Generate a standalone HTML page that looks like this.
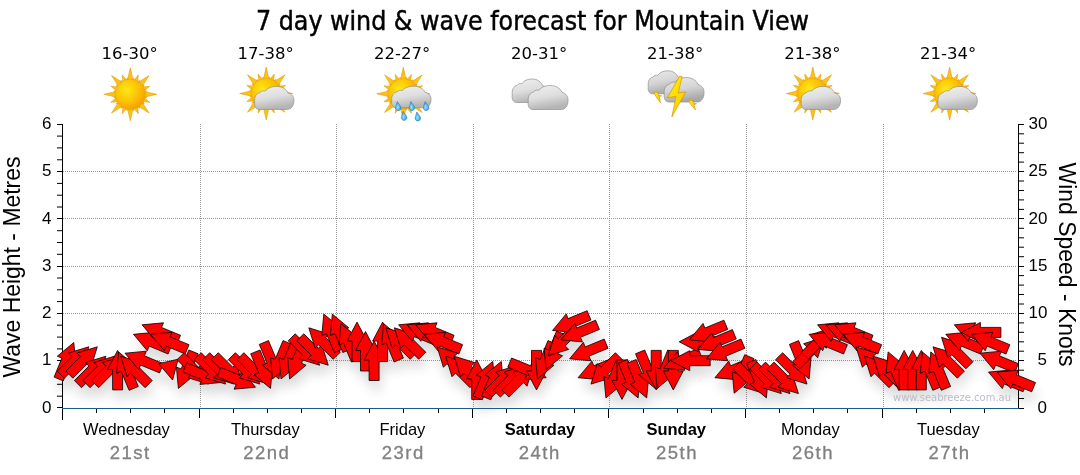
<!DOCTYPE html>
<html><head><meta charset="utf-8">
<style>
html,body{margin:0;padding:0;background:#fff;}
body{width:1080px;height:475px;overflow:hidden;position:relative;}
svg{position:absolute;left:0;top:0;}
.t{font-family:"DejaVu Sans",sans-serif;}
</style></head><body>
<svg width="1080" height="475" viewBox="0 0 1080 475">
<defs>
 <radialGradient id="sunG" cx="0.35" cy="0.35" r="0.75">
  <stop offset="0" stop-color="#ffe100"/><stop offset="0.6" stop-color="#fbb900"/><stop offset="1" stop-color="#f29400"/>
 </radialGradient>
 <linearGradient id="rayG" x1="0" y1="0" x2="0" y2="1">
  <stop offset="0" stop-color="#ffd51e"/><stop offset="1" stop-color="#f6a300"/>
 </linearGradient>
 <linearGradient id="cloudG" x1="0" y1="0" x2="0" y2="1">
  <stop offset="0" stop-color="#f4f4f4"/><stop offset="1" stop-color="#b9b9b9"/>
 </linearGradient>
 
 <radialGradient id="discG" cx="0.38" cy="0.36" r="0.7">
  <stop offset="0" stop-color="#ffe81a"/><stop offset="0.55" stop-color="#fcc200"/><stop offset="1" stop-color="#f49c00"/>
 </radialGradient>
 <linearGradient id="cloudG2" x1="0" y1="0" x2="0.3" y2="1">
  <stop offset="0" stop-color="#f0f0f0"/><stop offset="0.55" stop-color="#dedede"/><stop offset="1" stop-color="#b5b5b5"/>
 </linearGradient>
 <linearGradient id="cloudG3" x1="0" y1="0" x2="0.3" y2="1">
  <stop offset="0" stop-color="#ebebeb"/><stop offset="0.55" stop-color="#d4d4d4"/><stop offset="1" stop-color="#a9a9a9"/>
 </linearGradient>
 <linearGradient id="boltG" x1="0" y1="0" x2="1" y2="1">
  <stop offset="0" stop-color="#fff200"/><stop offset="1" stop-color="#f7c600"/>
 </linearGradient>
 <radialGradient id="dropG" cx="0.4" cy="0.6" r="0.6">
  <stop offset="0" stop-color="#9fe0ff"/><stop offset="1" stop-color="#2a9ad8"/>
 </radialGradient>
 <filter id="soft" x="-10%" y="-10%" width="120%" height="120%"><feGaussianBlur stdDeviation="0.35"/></filter>
 <filter id="blur8" x="-20%" y="-50%" width="140%" height="200%"><feGaussianBlur stdDeviation="6"/></filter>
</defs>

<!-- title -->
<text x="256" y="30" font-family="DejaVu Sans" font-stretch="condensed" font-size="26.8" fill="#000" stroke="#000" stroke-width="0.45" textLength="553" lengthAdjust="spacingAndGlyphs">7 day wind &amp; wave forecast for Mountain View</text>

<!-- temps -->
<g font-family="DejaVu Sans" font-size="16.5" fill="#000" text-anchor="middle">
<text x="129.6" y="59">16-30°</text>
<text x="265.6" y="59">17-38°</text>
<text x="402.1" y="59">22-27°</text>
<text x="539.2" y="59">20-31°</text>
<text x="675.1" y="59">21-38°</text>
<text x="812.4" y="59">21-38°</text>
<text x="948.2" y="59">21-34°</text>
</g>

<!-- icons -->
<g filter="url(#soft)"><path d="M130.30 67.80L133.70 82.80L126.90 82.80ZM138.34 74.90L137.29 84.75L132.11 82.60ZM149.04 75.56L140.84 88.57L136.03 83.76ZM149.70 86.26L142.00 92.49L139.85 87.31ZM156.80 94.30L141.80 97.70L141.80 90.90ZM149.70 102.34L139.85 101.29L142.00 96.11ZM149.04 113.04L136.03 104.84L140.84 100.03ZM138.34 113.70L132.11 106.00L137.29 103.85ZM130.30 120.80L126.90 105.80L133.70 105.80ZM122.26 113.70L123.31 103.85L128.49 106.00ZM111.56 113.04L119.76 100.03L124.57 104.84ZM110.90 102.34L118.60 96.11L120.75 101.29ZM103.80 94.30L118.80 90.90L118.80 97.70ZM110.90 86.26L120.75 87.31L118.60 92.49ZM111.56 75.56L124.57 83.76L119.76 88.57ZM122.26 74.90L128.49 82.60L123.31 84.75ZM133.58 77.82L134.60 82.92L130.68 82.14ZM139.63 80.33L138.63 85.43L135.30 83.21ZM144.27 84.97L141.39 89.30L139.17 85.97ZM146.78 91.02L142.46 93.92L141.68 90.00ZM146.78 97.58L141.68 98.60L142.46 94.68ZM144.27 103.63L139.17 102.63L141.39 99.30ZM139.63 108.27L135.30 105.39L138.63 103.17ZM133.58 110.78L130.68 106.46L134.60 105.68ZM127.02 110.78L126.00 105.68L129.92 106.46ZM120.97 108.27L121.97 103.17L125.30 105.39ZM116.33 103.63L119.21 99.30L121.43 102.63ZM113.82 97.58L118.14 94.68L118.92 98.60ZM113.82 91.02L118.92 90.00L118.14 93.92ZM116.33 84.97L121.43 85.97L119.21 89.30ZM120.97 80.33L125.30 83.21L121.97 85.43ZM127.02 77.82L129.92 82.14L126.00 82.92Z" fill="#fcc410" stroke="#e39a16" stroke-width="0.6" stroke-linejoin="round"/><circle cx="130.30" cy="94.30" r="15.20" fill="url(#discG)" stroke="#efa21a" stroke-width="0.6"/></g>
<g filter="url(#soft)"><path d="M266.20 67.00L269.60 82.00L262.80 82.00ZM274.24 74.10L273.19 83.95L268.01 81.80ZM284.94 74.76L276.74 87.77L271.93 82.96ZM285.60 85.46L277.90 91.69L275.75 86.51ZM292.70 93.50L277.70 96.90L277.70 90.10ZM285.60 101.54L275.75 100.49L277.90 95.31ZM284.94 112.24L271.93 104.04L276.74 99.23ZM274.24 112.90L268.01 105.20L273.19 103.05ZM266.20 120.00L262.80 105.00L269.60 105.00ZM258.16 112.90L259.21 103.05L264.39 105.20ZM247.46 112.24L255.66 99.23L260.47 104.04ZM246.80 101.54L254.50 95.31L256.65 100.49ZM239.70 93.50L254.70 90.10L254.70 96.90ZM246.80 85.46L256.65 86.51L254.50 91.69ZM247.46 74.76L260.47 82.96L255.66 87.77ZM258.16 74.10L264.39 81.80L259.21 83.95ZM269.48 77.02L270.50 82.12L266.58 81.34ZM275.53 79.53L274.53 84.63L271.20 82.41ZM280.17 84.17L277.29 88.50L275.07 85.17ZM282.68 90.22L278.36 93.12L277.58 89.20ZM282.68 96.78L277.58 97.80L278.36 93.88ZM280.17 102.83L275.07 101.83L277.29 98.50ZM275.53 107.47L271.20 104.59L274.53 102.37ZM269.48 109.98L266.58 105.66L270.50 104.88ZM262.92 109.98L261.90 104.88L265.82 105.66ZM256.87 107.47L257.87 102.37L261.20 104.59ZM252.23 102.83L255.11 98.50L257.33 101.83ZM249.72 96.78L254.04 93.88L254.82 97.80ZM249.72 90.22L254.82 89.20L254.04 93.12ZM252.23 84.17L257.33 85.17L255.11 88.50ZM256.87 79.53L261.20 82.41L257.87 84.63ZM262.92 77.02L265.82 81.34L261.90 82.12Z" fill="#fcc410" stroke="#e39a16" stroke-width="0.6" stroke-linejoin="round"/><circle cx="266.20" cy="93.50" r="15.20" fill="url(#discG)" stroke="#efa21a" stroke-width="0.6"/></g><path d="M259.34 109.40 C255.88 109.40 253.91 106.33 254.70 101.93 C253.91 96.94 256.38 93.20 259.83 92.63 C261.31 90.90 263.29 90.43 265.26 91.00 C267.73 87.55 272.18 86.40 276.62 86.40 C282.05 86.40 286.49 89.18 287.98 92.92 C291.93 93.88 294.20 96.94 293.90 100.87 C293.90 105.85 290.94 109.40 287.48 109.40 Z" fill="url(#cloudG2)" stroke="#8f8f8f" stroke-width="0.7" filter="url(#soft)"/>
<g filter="url(#soft)"><path d="M403.30 67.30L406.70 82.30L399.90 82.30ZM411.34 74.40L410.29 84.25L405.11 82.10ZM422.04 75.06L413.84 88.07L409.03 83.26ZM422.70 85.76L415.00 91.99L412.85 86.81ZM429.80 93.80L414.80 97.20L414.80 90.40ZM422.70 101.84L412.85 100.79L415.00 95.61ZM422.04 112.54L409.03 104.34L413.84 99.53ZM411.34 113.20L405.11 105.50L410.29 103.35ZM403.30 120.30L399.90 105.30L406.70 105.30ZM395.26 113.20L396.31 103.35L401.49 105.50ZM384.56 112.54L392.76 99.53L397.57 104.34ZM383.90 101.84L391.60 95.61L393.75 100.79ZM376.80 93.80L391.80 90.40L391.80 97.20ZM383.90 85.76L393.75 86.81L391.60 91.99ZM384.56 75.06L397.57 83.26L392.76 88.07ZM395.26 74.40L401.49 82.10L396.31 84.25ZM406.58 77.32L407.60 82.42L403.68 81.64ZM412.63 79.83L411.63 84.93L408.30 82.71ZM417.27 84.47L414.39 88.80L412.17 85.47ZM419.78 90.52L415.46 93.42L414.68 89.50ZM419.78 97.08L414.68 98.10L415.46 94.18ZM417.27 103.13L412.17 102.13L414.39 98.80ZM412.63 107.77L408.30 104.89L411.63 102.67ZM406.58 110.28L403.68 105.96L407.60 105.18ZM400.02 110.28L399.00 105.18L402.92 105.96ZM393.97 107.77L394.97 102.67L398.30 104.89ZM389.33 103.13L392.21 98.80L394.43 102.13ZM386.82 97.08L391.14 94.18L391.92 98.10ZM386.82 90.52L391.92 89.50L391.14 93.42ZM389.33 84.47L394.43 85.47L392.21 88.80ZM393.97 79.83L398.30 82.71L394.97 84.93ZM400.02 77.32L402.92 81.64L399.00 82.42Z" fill="#fcc410" stroke="#e39a16" stroke-width="0.6" stroke-linejoin="round"/><circle cx="403.30" cy="93.80" r="15.20" fill="url(#discG)" stroke="#efa21a" stroke-width="0.6"/></g><path d="M396.44 107.70 C392.98 107.70 391.01 104.83 391.80 100.71 C391.01 96.05 393.48 92.56 396.93 92.02 C398.41 90.41 400.39 89.96 402.36 90.50 C404.83 87.28 409.27 86.20 413.72 86.20 C419.15 86.20 423.59 88.80 425.07 92.29 C429.02 93.19 431.30 96.05 431.00 99.73 C431.00 104.39 428.04 107.70 424.58 107.70 Z" fill="url(#cloudG2)" stroke="#8f8f8f" stroke-width="0.7" filter="url(#soft)"/><path d="M397.20 101.60 L400.70 106.50 A2.80 2.80 0 1 1 395.90 106.20 Z" fill="url(#dropG)" stroke="#1d73ad" stroke-width="0.5" filter="url(#soft)"/><path d="M410.90 101.60 L414.40 106.50 A2.80 2.80 0 1 1 409.60 106.20 Z" fill="url(#dropG)" stroke="#1d73ad" stroke-width="0.5" filter="url(#soft)"/><path d="M425.10 101.60 L428.60 106.50 A2.80 2.80 0 1 1 423.80 106.20 Z" fill="url(#dropG)" stroke="#1d73ad" stroke-width="0.5" filter="url(#soft)"/><path d="M403.10 111.40 L406.60 116.30 A2.80 2.80 0 1 1 401.80 116.00 Z" fill="url(#dropG)" stroke="#1d73ad" stroke-width="0.5" filter="url(#soft)"/><path d="M416.80 112.00 L420.30 116.90 A2.80 2.80 0 1 1 415.50 116.60 Z" fill="url(#dropG)" stroke="#1d73ad" stroke-width="0.5" filter="url(#soft)"/>
<path d="M516.50 102.50 C513.35 102.50 511.55 99.37 512.27 94.86 C511.55 89.77 513.80 85.95 516.95 85.36 C518.30 83.60 520.10 83.11 521.90 83.70 C524.15 80.17 528.20 79.00 532.25 79.00 C537.20 79.00 541.25 81.84 542.60 85.66 C546.20 86.64 548.27 89.77 548.00 93.79 C548.00 98.88 545.30 102.50 542.15 102.50 Z" fill="url(#cloudG2)" stroke="#8f8f8f" stroke-width="0.7" filter="url(#soft)"/><path d="M533.00 109.50 C529.50 109.50 527.50 106.30 528.30 101.70 C527.50 96.50 530.00 92.60 533.50 92.00 C535.00 90.20 537.00 89.70 539.00 90.30 C541.50 86.70 546.00 85.50 550.50 85.50 C556.00 85.50 560.50 88.40 562.00 92.30 C566.00 93.30 568.30 96.50 568.00 100.60 C568.00 105.80 565.00 109.50 561.50 109.50 Z" fill="url(#cloudG2)" stroke="#8f8f8f" stroke-width="0.7" filter="url(#soft)"/>
<path d="M652.44 93.80 C649.33 93.80 647.56 90.73 648.27 86.33 C647.56 81.34 649.77 77.60 652.88 77.03 C654.21 75.30 655.99 74.83 657.76 75.40 C659.98 71.95 663.98 70.80 667.97 70.80 C672.85 70.80 676.84 73.58 678.17 77.32 C681.73 78.27 683.77 81.34 683.50 85.27 C683.50 90.25 680.84 93.80 677.73 93.80 Z" fill="url(#cloudG3)" stroke="#8f8f8f" stroke-width="0.7" filter="url(#soft)"/><path d="M653.80 92.30 L658.00 92.30 L658.60 95.50 L661.50 95.80 L659.20 96.60 L660.50 102.80 L656.20 96.80Z" fill="url(#boltG)" stroke="#d98a00" stroke-width="0.6" stroke-linejoin="round"/><path d="M669.00 102.00 C665.50 102.00 663.50 98.73 664.30 94.04 C663.50 88.73 666.00 84.75 669.50 84.14 C671.00 82.30 673.00 81.79 675.00 82.40 C677.50 78.72 682.00 77.50 686.50 77.50 C692.00 77.50 696.50 80.46 698.00 84.44 C702.00 85.46 704.30 88.73 704.00 92.91 C704.00 98.22 701.00 102.00 697.50 102.00 Z" fill="url(#cloudG3)" stroke="#8f8f8f" stroke-width="0.7" filter="url(#soft)"/><path d="M688.50 100.60 L692.80 100.60 L693.50 103.50 L696.50 103.80 L694.00 104.60 L695.50 109.80 L691.00 104.80Z" fill="url(#boltG)" stroke="#d98a00" stroke-width="0.6" stroke-linejoin="round"/><path d="M679.50 76.00 L667.50 97.80 L676.00 96.30 L671.80 117.00 L685.80 91.80 L678.20 93.00 L682.20 76.50Z" fill="url(#boltG)" stroke="#d98a00" stroke-width="0.6" stroke-linejoin="round"/>
<g filter="url(#soft)"><path d="M812.80 67.00L816.20 82.00L809.40 82.00ZM820.84 74.10L819.79 83.95L814.61 81.80ZM831.54 74.76L823.34 87.77L818.53 82.96ZM832.20 85.46L824.50 91.69L822.35 86.51ZM839.30 93.50L824.30 96.90L824.30 90.10ZM832.20 101.54L822.35 100.49L824.50 95.31ZM831.54 112.24L818.53 104.04L823.34 99.23ZM820.84 112.90L814.61 105.20L819.79 103.05ZM812.80 120.00L809.40 105.00L816.20 105.00ZM804.76 112.90L805.81 103.05L810.99 105.20ZM794.06 112.24L802.26 99.23L807.07 104.04ZM793.40 101.54L801.10 95.31L803.25 100.49ZM786.30 93.50L801.30 90.10L801.30 96.90ZM793.40 85.46L803.25 86.51L801.10 91.69ZM794.06 74.76L807.07 82.96L802.26 87.77ZM804.76 74.10L810.99 81.80L805.81 83.95ZM816.08 77.02L817.10 82.12L813.18 81.34ZM822.13 79.53L821.13 84.63L817.80 82.41ZM826.77 84.17L823.89 88.50L821.67 85.17ZM829.28 90.22L824.96 93.12L824.18 89.20ZM829.28 96.78L824.18 97.80L824.96 93.88ZM826.77 102.83L821.67 101.83L823.89 98.50ZM822.13 107.47L817.80 104.59L821.13 102.37ZM816.08 109.98L813.18 105.66L817.10 104.88ZM809.52 109.98L808.50 104.88L812.42 105.66ZM803.47 107.47L804.47 102.37L807.80 104.59ZM798.83 102.83L801.71 98.50L803.93 101.83ZM796.32 96.78L800.64 93.88L801.42 97.80ZM796.32 90.22L801.42 89.20L800.64 93.12ZM798.83 84.17L803.93 85.17L801.71 88.50ZM803.47 79.53L807.80 82.41L804.47 84.63ZM809.52 77.02L812.42 81.34L808.50 82.12Z" fill="#fcc410" stroke="#e39a16" stroke-width="0.6" stroke-linejoin="round"/><circle cx="812.80" cy="93.50" r="15.20" fill="url(#discG)" stroke="#efa21a" stroke-width="0.6"/></g><path d="M805.94 109.40 C802.48 109.40 800.51 106.33 801.30 101.93 C800.51 96.94 802.98 93.20 806.43 92.63 C807.91 90.90 809.89 90.43 811.86 91.00 C814.33 87.55 818.77 86.40 823.22 86.40 C828.65 86.40 833.09 89.18 834.58 92.92 C838.52 93.88 840.80 96.94 840.50 100.87 C840.50 105.85 837.54 109.40 834.08 109.40 Z" fill="url(#cloudG2)" stroke="#8f8f8f" stroke-width="0.7" filter="url(#soft)"/>
<g filter="url(#soft)"><path d="M949.60 67.00L953.00 82.00L946.20 82.00ZM957.64 74.10L956.59 83.95L951.41 81.80ZM968.34 74.76L960.14 87.77L955.33 82.96ZM969.00 85.46L961.30 91.69L959.15 86.51ZM976.10 93.50L961.10 96.90L961.10 90.10ZM969.00 101.54L959.15 100.49L961.30 95.31ZM968.34 112.24L955.33 104.04L960.14 99.23ZM957.64 112.90L951.41 105.20L956.59 103.05ZM949.60 120.00L946.20 105.00L953.00 105.00ZM941.56 112.90L942.61 103.05L947.79 105.20ZM930.86 112.24L939.06 99.23L943.87 104.04ZM930.20 101.54L937.90 95.31L940.05 100.49ZM923.10 93.50L938.10 90.10L938.10 96.90ZM930.20 85.46L940.05 86.51L937.90 91.69ZM930.86 74.76L943.87 82.96L939.06 87.77ZM941.56 74.10L947.79 81.80L942.61 83.95ZM952.88 77.02L953.90 82.12L949.98 81.34ZM958.93 79.53L957.93 84.63L954.60 82.41ZM963.57 84.17L960.69 88.50L958.47 85.17ZM966.08 90.22L961.76 93.12L960.98 89.20ZM966.08 96.78L960.98 97.80L961.76 93.88ZM963.57 102.83L958.47 101.83L960.69 98.50ZM958.93 107.47L954.60 104.59L957.93 102.37ZM952.88 109.98L949.98 105.66L953.90 104.88ZM946.32 109.98L945.30 104.88L949.22 105.66ZM940.27 107.47L941.27 102.37L944.60 104.59ZM935.63 102.83L938.51 98.50L940.73 101.83ZM933.12 96.78L937.44 93.88L938.22 97.80ZM933.12 90.22L938.22 89.20L937.44 93.12ZM935.63 84.17L940.73 85.17L938.51 88.50ZM940.27 79.53L944.60 82.41L941.27 84.63ZM946.32 77.02L949.22 81.34L945.30 82.12Z" fill="#fcc410" stroke="#e39a16" stroke-width="0.6" stroke-linejoin="round"/><circle cx="949.60" cy="93.50" r="15.20" fill="url(#discG)" stroke="#efa21a" stroke-width="0.6"/></g><path d="M942.74 109.40 C939.28 109.40 937.31 106.33 938.10 101.93 C937.31 96.94 939.77 93.20 943.23 92.63 C944.71 90.90 946.69 90.43 948.66 91.00 C951.13 87.55 955.57 86.40 960.02 86.40 C965.45 86.40 969.89 89.18 971.38 92.92 C975.32 93.88 977.60 96.94 977.30 100.87 C977.30 105.85 974.34 109.40 970.88 109.40 Z" fill="url(#cloudG2)" stroke="#8f8f8f" stroke-width="0.7" filter="url(#soft)"/>

<!-- gridlines -->
<g stroke="#9a9a9a" stroke-width="1" stroke-dasharray="1 1" fill="none">
<path d="M63 171.5H1017M63 218.5H1017M63 266.5H1017M63 313.5H1017M63 360.5H1017"/>
<path d="M200.5 124V408M336.5 124V408M473.5 124V408M609.5 124V408M746.5 124V408M883.5 124V408"/>
</g>

<g id="shadow"><g fill="#000" opacity="0.14" filter="url(#blur8)" transform="translate(2,10)"><polygon points="73.8,342.5 75.8,363.9 71.2,361.9 63.3,380.9 54.1,377.1 61.9,358.1 57.3,356.2"/><polygon points="88.8,346.8 82.4,367.3 78.9,363.7 64.4,378.2 57.3,371.1 71.8,356.7 68.3,353.1"/><polygon points="97.3,346.8 91.0,367.3 87.4,363.7 72.9,378.2 65.9,371.1 80.4,356.7 76.8,353.1"/><polygon points="105.9,356.2 99.5,376.7 96.0,373.2 81.5,387.7 74.4,380.6 88.9,366.1 85.4,362.6"/><polygon points="114.4,356.2 108.1,376.7 104.5,373.2 90.0,387.7 83.0,380.6 97.5,366.1 93.9,362.6"/><polygon points="123.0,356.2 116.6,376.7 113.1,373.2 98.6,387.7 91.5,380.6 106.0,366.1 102.5,362.6"/><polygon points="117.6,350.4 127.6,369.4 122.6,369.4 122.6,389.9 112.6,389.9 112.6,369.4 107.6,369.4"/><polygon points="118.6,351.9 135.1,365.7 130.5,367.6 138.3,386.5 129.1,390.3 121.2,371.4 116.6,373.3"/><polygon points="120.7,356.2 141.2,362.6 137.7,366.1 152.2,380.6 145.1,387.7 130.6,373.2 127.1,376.7"/><polygon points="125.0,353.2 146.4,351.2 144.4,355.8 163.4,363.7 159.6,372.9 140.6,365.1 138.7,369.7"/><polygon points="133.5,334.3 154.9,332.3 153.0,336.9 171.9,344.7 168.1,354.0 149.2,346.1 147.3,350.8"/><polygon points="142.1,324.8 163.5,322.8 161.5,327.4 180.5,335.3 176.7,344.5 157.7,336.7 155.8,341.3"/><polygon points="150.6,334.3 172.0,332.3 170.1,336.9 189.0,344.7 185.2,354.0 166.3,346.1 164.4,350.8"/><polygon points="172.6,380.0 158.6,363.7 178.1,359.2"/><polygon points="178.4,388.4 176.4,367.0 181.1,369.0 188.9,350.0 198.2,353.8 190.3,372.8 194.9,374.7"/><polygon points="208.5,384.1 188.0,377.8 191.5,374.2 177.0,359.7 184.1,352.7 198.6,367.2 202.1,363.6"/><polygon points="221.3,382.5 199.9,384.4 201.9,379.8 182.9,372.0 186.7,362.7 205.7,370.6 207.6,366.0"/><polygon points="225.6,384.1 205.1,377.8 208.6,374.2 194.1,359.7 201.2,352.7 215.7,367.2 219.2,363.6"/><polygon points="234.1,384.1 213.6,377.8 217.2,374.2 202.7,359.7 209.7,352.7 224.2,367.2 227.8,363.6"/><polygon points="242.7,384.1 222.2,377.8 225.7,374.2 211.2,359.7 218.3,352.7 232.8,367.2 236.3,363.6"/><polygon points="255.5,387.2 234.1,389.2 236.1,384.5 217.1,376.7 220.9,367.5 239.9,375.3 241.8,370.7"/><polygon points="259.8,384.1 239.3,377.8 242.8,374.2 228.3,359.7 235.4,352.7 249.9,367.2 253.4,363.6"/><polygon points="268.3,384.1 247.8,377.8 251.4,374.2 236.9,359.7 243.9,352.7 258.4,367.2 262.0,363.6"/><polygon points="270.5,388.4 254.0,374.7 258.6,372.8 250.7,353.8 260.0,350.0 267.8,369.0 272.5,367.0"/><polygon points="279.0,379.0 262.5,365.2 267.1,363.3 259.3,344.4 268.5,340.6 276.4,359.5 281.0,357.6"/><polygon points="272.5,379.0 270.5,357.6 275.1,359.5 283.0,340.6 292.2,344.4 284.4,363.3 289.0,365.2"/><polygon points="281.0,379.0 279.0,357.6 283.7,359.5 291.5,340.6 300.8,344.4 292.9,363.3 297.5,365.2"/><polygon points="289.6,379.0 287.6,357.6 292.2,359.5 300.1,340.6 309.3,344.4 301.5,363.3 306.1,365.2"/><polygon points="319.6,365.2 299.1,358.9 302.7,355.3 288.2,340.8 295.2,333.8 309.7,348.3 313.3,344.7"/><polygon points="328.2,365.2 307.7,358.9 311.2,355.3 296.7,340.8 303.8,333.8 318.3,348.3 321.8,344.7"/><polygon points="308.8,327.8 329.3,334.2 325.8,337.7 340.3,352.2 333.2,359.3 318.7,344.8 315.2,348.3"/><polygon points="323.8,314.1 340.3,327.8 335.7,329.7 343.5,348.7 334.3,352.5 326.4,333.6 321.8,335.5"/><polygon points="332.3,314.1 348.8,327.8 344.2,329.7 352.1,348.7 342.8,352.5 335.0,333.6 330.3,335.5"/><polygon points="340.9,323.6 357.4,337.3 352.8,339.2 360.6,358.1 351.4,362.0 343.5,343.0 338.9,344.9"/><polygon points="357.0,322.1 367.0,341.1 362.0,341.1 362.0,361.6 352.0,361.6 352.0,341.1 347.0,341.1"/><polygon points="365.5,331.5 375.5,350.5 370.5,350.5 370.5,371.0 360.5,371.0 360.5,350.5 355.5,350.5"/><polygon points="374.1,341.0 384.1,360.0 379.1,360.0 379.1,380.5 369.1,380.5 369.1,360.0 364.1,360.0"/><polygon points="382.6,322.1 392.6,341.1 387.6,341.1 387.6,361.6 377.6,361.6 377.6,341.1 372.6,341.1"/><polygon points="383.6,323.6 400.1,337.3 395.5,339.2 403.4,358.1 394.1,362.0 386.3,343.0 381.6,344.9"/><polygon points="385.8,327.8 406.3,334.2 402.7,337.7 417.2,352.2 410.2,359.3 395.7,344.8 392.1,348.3"/><polygon points="394.3,327.8 414.8,334.2 411.3,337.7 425.8,352.2 418.7,359.3 404.2,344.8 400.7,348.3"/><polygon points="398.6,324.8 420.0,322.8 418.0,327.4 437.0,335.3 433.2,344.5 414.2,336.7 412.3,341.3"/><polygon points="407.1,324.8 428.5,322.8 426.6,327.4 445.5,335.3 441.7,344.5 422.8,336.7 420.9,341.3"/><polygon points="415.7,324.8 437.1,322.8 435.1,327.4 454.1,335.3 450.3,344.5 431.3,336.7 429.4,341.3"/><polygon points="424.2,334.3 445.6,332.3 443.7,336.9 462.6,344.7 458.8,354.0 439.9,346.1 438.0,350.8"/><polygon points="437.1,346.8 457.6,353.1 454.0,356.7 468.5,371.1 461.5,378.2 447.0,363.7 443.4,367.3"/><polygon points="445.6,356.2 466.1,362.6 462.6,366.1 477.1,380.6 470.0,387.7 455.5,373.2 452.0,376.7"/><polygon points="454.2,356.2 474.7,362.6 471.1,366.1 485.6,380.6 478.6,387.7 464.1,373.2 460.5,376.7"/><polygon points="476.7,359.9 486.7,378.9 481.7,378.9 481.7,399.4 471.7,399.4 471.7,378.9 466.7,378.9"/><polygon points="492.8,361.4 494.8,382.8 490.1,380.9 482.3,399.8 473.0,396.0 480.9,377.0 476.3,375.1"/><polygon points="501.3,361.4 503.3,382.8 498.7,380.9 490.8,399.8 481.6,396.0 489.4,377.0 484.8,375.1"/><polygon points="516.3,365.7 509.9,386.2 506.4,382.6 491.9,397.1 484.8,390.1 499.3,375.6 495.8,372.0"/><polygon points="524.8,365.7 518.5,386.2 514.9,382.6 500.4,397.1 493.4,390.1 507.9,375.6 504.3,372.0"/><polygon points="533.4,365.7 527.0,386.2 523.5,382.6 509.0,397.1 501.9,390.1 516.4,375.6 512.9,372.0"/><polygon points="546.2,377.7 524.8,379.7 526.8,375.1 507.8,367.2 511.6,358.0 530.6,365.8 532.5,361.2"/><polygon points="536.5,389.9 526.5,370.9 531.5,370.9 531.5,350.4 541.5,350.4 541.5,370.9 546.5,370.9"/><polygon points="537.5,379.0 535.5,357.6 540.2,359.5 548.0,340.6 557.3,344.4 549.4,363.3 554.0,365.2"/><polygon points="546.1,369.5 544.1,348.1 548.7,350.0 556.6,331.1 565.8,334.9 558.0,353.9 562.6,355.8"/><polygon points="548.2,355.8 554.6,335.3 558.1,338.8 572.6,324.3 579.7,331.4 565.2,345.9 568.7,349.4"/><polygon points="552.5,330.5 566.2,313.9 568.1,318.6 587.1,310.7 590.9,320.0 571.9,327.8 573.9,332.4"/><polygon points="561.0,339.9 574.8,323.4 576.7,328.0 595.6,320.2 599.4,329.4 580.5,337.3 582.4,341.9"/><polygon points="569.6,358.8 583.3,342.3 585.2,346.9 604.2,339.1 608.0,348.3 589.0,356.2 591.0,360.8"/><polygon points="578.1,377.7 591.9,361.2 593.8,365.8 612.7,358.0 616.5,367.2 597.6,375.1 599.5,379.7"/><polygon points="591.0,384.1 597.3,363.6 600.9,367.2 615.4,352.7 622.4,359.7 607.9,374.2 611.5,377.8"/><polygon points="605.9,397.9 603.9,376.5 608.6,378.4 616.4,359.5 625.7,363.3 617.8,382.2 622.4,384.2"/><polygon points="622.0,399.4 612.0,380.4 617.0,380.4 617.0,359.9 627.0,359.9 627.0,380.4 632.0,380.4"/><polygon points="638.1,397.9 621.6,384.2 626.2,382.2 618.4,363.3 627.6,359.5 635.5,378.4 640.1,376.5"/><polygon points="646.7,397.9 630.2,384.2 634.8,382.2 626.9,363.3 636.2,359.5 644.0,378.4 648.7,376.5"/><polygon points="655.2,388.4 638.7,374.7 643.3,372.8 635.5,353.8 644.7,350.0 652.6,369.0 657.2,367.0"/><polygon points="656.2,389.9 646.2,370.9 651.2,370.9 651.2,350.4 661.2,350.4 661.2,370.9 666.2,370.9"/><polygon points="657.2,388.4 655.2,367.0 659.9,369.0 667.7,350.0 677.0,353.8 669.1,372.8 673.7,374.7"/><polygon points="673.3,389.9 663.3,370.9 668.3,370.9 668.3,350.4 678.3,350.4 678.3,370.9 683.3,370.9"/><polygon points="663.6,368.3 677.4,351.8 679.3,356.4 698.2,348.5 702.0,357.8 683.1,365.6 685.0,370.2"/><polygon points="670.7,360.7 689.7,350.7 689.7,355.7 710.2,355.7 710.2,365.7 689.7,365.7 689.7,370.7"/><polygon points="679.2,341.8 698.2,331.8 698.2,336.8 718.7,336.8 718.7,346.8 698.2,346.8 698.2,351.8"/><polygon points="689.3,339.9 703.0,323.4 704.9,328.0 723.9,320.2 727.7,329.4 708.7,337.3 710.7,341.9"/><polygon points="697.8,349.4 711.6,332.9 713.5,337.5 732.4,329.6 736.2,338.9 717.3,346.7 719.2,351.3"/><polygon points="706.4,358.8 720.1,342.3 722.0,346.9 741.0,339.1 744.8,348.3 725.8,356.2 727.8,360.8"/><polygon points="714.9,377.7 728.7,361.2 730.6,365.8 749.5,358.0 753.3,367.2 734.4,375.1 736.3,379.7"/><polygon points="734.2,393.2 732.2,371.8 736.8,373.7 744.7,354.7 753.9,358.6 746.1,377.5 750.7,379.4"/><polygon points="764.2,393.6 743.7,387.2 747.3,383.7 732.8,369.2 739.8,362.1 754.3,376.6 757.9,373.1"/><polygon points="766.4,397.9 749.9,384.2 754.5,382.2 746.6,363.3 755.9,359.5 763.7,378.4 768.4,376.5"/><polygon points="781.3,393.6 760.8,387.2 764.4,383.7 749.9,369.2 756.9,362.1 771.4,376.6 775.0,373.1"/><polygon points="789.9,393.6 769.4,387.2 772.9,383.7 758.4,369.2 765.5,362.1 780.0,376.6 783.5,373.1"/><polygon points="798.4,393.6 777.9,387.2 781.5,383.7 767.0,369.2 774.0,362.1 788.5,376.6 792.1,373.1"/><polygon points="807.0,384.1 786.5,377.8 790.0,374.2 775.5,359.7 782.6,352.7 797.1,367.2 800.6,363.6"/><polygon points="809.1,379.0 792.6,365.2 797.2,363.3 789.4,344.4 798.6,340.6 806.5,359.5 811.1,357.6"/><polygon points="824.1,337.3 817.7,357.8 814.2,354.3 799.7,368.8 792.6,361.7 807.1,347.2 803.6,343.7"/><polygon points="832.6,327.8 826.3,348.3 822.7,344.8 808.2,359.3 801.2,352.2 815.7,337.7 812.1,334.2"/><polygon points="809.0,334.3 830.4,332.3 828.4,336.9 847.4,344.7 843.6,354.0 824.6,346.1 822.7,350.8"/><polygon points="817.5,324.8 838.9,322.8 837.0,327.4 855.9,335.3 852.1,344.5 833.2,336.7 831.3,341.3"/><polygon points="826.1,324.8 847.5,322.8 845.5,327.4 864.5,335.3 860.7,344.5 841.7,336.7 839.8,341.3"/><polygon points="834.6,324.8 856.0,322.8 854.1,327.4 873.0,335.3 869.2,344.5 850.3,336.7 848.4,341.3"/><polygon points="843.2,334.3 864.6,332.3 862.6,336.9 881.6,344.7 877.8,354.0 858.8,346.1 856.9,350.8"/><polygon points="856.0,346.8 876.5,353.1 873.0,356.7 887.5,371.1 880.4,378.2 865.9,363.7 862.4,367.3"/><polygon points="864.6,356.2 885.1,362.6 881.5,366.1 896.0,380.6 889.0,387.7 874.5,373.2 870.9,376.7"/><polygon points="873.1,356.2 893.6,362.6 890.1,366.1 904.6,380.6 897.5,387.7 883.0,373.2 879.5,376.7"/><polygon points="888.1,351.9 904.6,365.7 900.0,367.6 907.8,386.5 898.6,390.3 890.7,371.4 886.1,373.3"/><polygon points="904.2,350.4 914.2,369.4 909.2,369.4 909.2,389.9 899.2,389.9 899.2,369.4 894.2,369.4"/><polygon points="912.7,350.4 922.7,369.4 917.7,369.4 917.7,389.9 907.7,389.9 907.7,369.4 902.7,369.4"/><polygon points="921.3,350.4 931.3,369.4 926.3,369.4 926.3,389.9 916.3,389.9 916.3,369.4 911.3,369.4"/><polygon points="922.3,351.9 938.8,365.7 934.2,367.6 942.0,386.5 932.8,390.3 924.9,371.4 920.3,373.3"/><polygon points="930.8,351.9 947.3,365.7 942.7,367.6 950.6,386.5 941.3,390.3 933.5,371.4 928.8,373.3"/><polygon points="933.0,346.8 953.5,353.1 949.9,356.7 964.4,371.1 957.4,378.2 942.9,363.7 939.3,367.3"/><polygon points="941.5,337.3 962.0,343.7 958.5,347.2 973.0,361.7 965.9,368.8 951.4,354.3 947.9,357.8"/><polygon points="945.8,334.3 967.2,332.3 965.2,336.9 984.2,344.7 980.4,354.0 961.4,346.1 959.5,350.8"/><polygon points="954.3,324.8 975.7,322.8 973.8,327.4 992.7,335.3 988.9,344.5 970.0,336.7 968.1,341.3"/><polygon points="961.4,332.4 980.4,322.4 980.4,327.4 1000.9,327.4 1000.9,337.4 980.4,337.4 980.4,342.4"/><polygon points="971.4,334.3 992.8,332.3 990.9,336.9 1009.8,344.7 1006.0,354.0 987.1,346.1 985.2,350.8"/><polygon points="980.0,353.2 1001.4,351.2 999.4,355.8 1018.4,363.7 1014.6,372.9 995.6,365.1 993.7,369.7"/><polygon points="988.5,372.1 1009.9,370.1 1008.0,374.7 1026.9,382.6 1023.1,391.8 1004.2,384.0 1002.3,388.6"/><polygon points="997.1,372.1 1018.5,370.1 1016.5,374.7 1035.5,382.6 1031.7,391.8 1012.7,384.0 1010.8,388.6"/></g></g>

<!-- axes -->
<g stroke="#000" stroke-width="1" fill="none">
<path d="M62.5 124V420"/>
<path d="M1018.5 124V408"/>
</g>
<g id="ticks" stroke="#000" stroke-width="1" fill="none"><path d="M57 124.5H62.5M57 136.1H62.5M57 147.9H62.5M57 159.8H62.5M57 171.5H62.5M57 183.4H62.5M57 195.2H62.5M57 207.0H62.5M57 218.5H62.5M57 230.7H62.5M57 242.5H62.5M57 254.3H62.5M57 266.5H62.5M57 278.0H62.5M57 289.8H62.5M57 301.6H62.5M57 313.5H62.5M57 325.2H62.5M57 337.1H62.5M57 348.9H62.5M57 360.5H62.5M57 372.5H62.5M57 384.3H62.5M57 396.2H62.5M57 407.5H62.5M1018.5 124.5H1024M1018.5 133.8H1024M1018.5 143.2H1024M1018.5 152.7H1024M1018.5 162.1H1024M1018.5 171.5H1024M1018.5 181.0H1024M1018.5 190.5H1024M1018.5 199.9H1024M1018.5 209.4H1024M1018.5 218.5H1024M1018.5 228.3H1024M1018.5 237.8H1024M1018.5 247.2H1024M1018.5 256.7H1024M1018.5 266.5H1024M1018.5 275.6H1024M1018.5 285.1H1024M1018.5 294.5H1024M1018.5 304.0H1024M1018.5 313.5H1024M1018.5 322.9H1024M1018.5 332.3H1024M1018.5 341.8H1024M1018.5 351.2H1024M1018.5 360.5H1024M1018.5 370.2H1024M1018.5 379.6H1024M1018.5 389.1H1024M1018.5 398.5H1024M1018.5 408.5H1024M62.5 409V418M96.5 409V413M130.5 409V413M164.5 409V413M199.5 409V418M233.5 409V413M267.5 409V413M301.5 409V413M335.5 409V418M369.5 409V413M403.5 409V413M438.5 409V413M472.5 409V418M506.5 409V413M540.5 409V413M574.5 409V413M608.5 409V418M643.5 409V413M677.5 409V413M711.5 409V413M745.5 409V418M779.5 409V413M813.5 409V413M847.5 409V413M882.5 409V418M916.5 409V413M950.5 409V413M984.5 409V413"/></g>
<path d="M62 408.5H1019" stroke="#1b5c8c" stroke-width="1"/>

<g id="arrows"><g fill="#ff0000" stroke="#000" stroke-width="0.8" stroke-linejoin="miter"><polygon points="73.8,342.5 75.8,363.9 71.2,361.9 63.3,380.9 54.1,377.1 61.9,358.1 57.3,356.2"/><polygon points="88.8,346.8 82.4,367.3 78.9,363.7 64.4,378.2 57.3,371.1 71.8,356.7 68.3,353.1"/><polygon points="97.3,346.8 91.0,367.3 87.4,363.7 72.9,378.2 65.9,371.1 80.4,356.7 76.8,353.1"/><polygon points="105.9,356.2 99.5,376.7 96.0,373.2 81.5,387.7 74.4,380.6 88.9,366.1 85.4,362.6"/><polygon points="114.4,356.2 108.1,376.7 104.5,373.2 90.0,387.7 83.0,380.6 97.5,366.1 93.9,362.6"/><polygon points="123.0,356.2 116.6,376.7 113.1,373.2 98.6,387.7 91.5,380.6 106.0,366.1 102.5,362.6"/><polygon points="117.6,350.4 127.6,369.4 122.6,369.4 122.6,389.9 112.6,389.9 112.6,369.4 107.6,369.4"/><polygon points="118.6,351.9 135.1,365.7 130.5,367.6 138.3,386.5 129.1,390.3 121.2,371.4 116.6,373.3"/><polygon points="120.7,356.2 141.2,362.6 137.7,366.1 152.2,380.6 145.1,387.7 130.6,373.2 127.1,376.7"/><polygon points="125.0,353.2 146.4,351.2 144.4,355.8 163.4,363.7 159.6,372.9 140.6,365.1 138.7,369.7"/><polygon points="133.5,334.3 154.9,332.3 153.0,336.9 171.9,344.7 168.1,354.0 149.2,346.1 147.3,350.8"/><polygon points="142.1,324.8 163.5,322.8 161.5,327.4 180.5,335.3 176.7,344.5 157.7,336.7 155.8,341.3"/><polygon points="150.6,334.3 172.0,332.3 170.1,336.9 189.0,344.7 185.2,354.0 166.3,346.1 164.4,350.8"/><polygon points="172.6,380.0 158.6,363.7 178.1,359.2"/><polygon points="178.4,388.4 176.4,367.0 181.1,369.0 188.9,350.0 198.2,353.8 190.3,372.8 194.9,374.7"/><polygon points="208.5,384.1 188.0,377.8 191.5,374.2 177.0,359.7 184.1,352.7 198.6,367.2 202.1,363.6"/><polygon points="221.3,382.5 199.9,384.4 201.9,379.8 182.9,372.0 186.7,362.7 205.7,370.6 207.6,366.0"/><polygon points="225.6,384.1 205.1,377.8 208.6,374.2 194.1,359.7 201.2,352.7 215.7,367.2 219.2,363.6"/><polygon points="234.1,384.1 213.6,377.8 217.2,374.2 202.7,359.7 209.7,352.7 224.2,367.2 227.8,363.6"/><polygon points="242.7,384.1 222.2,377.8 225.7,374.2 211.2,359.7 218.3,352.7 232.8,367.2 236.3,363.6"/><polygon points="255.5,387.2 234.1,389.2 236.1,384.5 217.1,376.7 220.9,367.5 239.9,375.3 241.8,370.7"/><polygon points="259.8,384.1 239.3,377.8 242.8,374.2 228.3,359.7 235.4,352.7 249.9,367.2 253.4,363.6"/><polygon points="268.3,384.1 247.8,377.8 251.4,374.2 236.9,359.7 243.9,352.7 258.4,367.2 262.0,363.6"/><polygon points="270.5,388.4 254.0,374.7 258.6,372.8 250.7,353.8 260.0,350.0 267.8,369.0 272.5,367.0"/><polygon points="279.0,379.0 262.5,365.2 267.1,363.3 259.3,344.4 268.5,340.6 276.4,359.5 281.0,357.6"/><polygon points="272.5,379.0 270.5,357.6 275.1,359.5 283.0,340.6 292.2,344.4 284.4,363.3 289.0,365.2"/><polygon points="281.0,379.0 279.0,357.6 283.7,359.5 291.5,340.6 300.8,344.4 292.9,363.3 297.5,365.2"/><polygon points="289.6,379.0 287.6,357.6 292.2,359.5 300.1,340.6 309.3,344.4 301.5,363.3 306.1,365.2"/><polygon points="319.6,365.2 299.1,358.9 302.7,355.3 288.2,340.8 295.2,333.8 309.7,348.3 313.3,344.7"/><polygon points="328.2,365.2 307.7,358.9 311.2,355.3 296.7,340.8 303.8,333.8 318.3,348.3 321.8,344.7"/><polygon points="308.8,327.8 329.3,334.2 325.8,337.7 340.3,352.2 333.2,359.3 318.7,344.8 315.2,348.3"/><polygon points="323.8,314.1 340.3,327.8 335.7,329.7 343.5,348.7 334.3,352.5 326.4,333.6 321.8,335.5"/><polygon points="332.3,314.1 348.8,327.8 344.2,329.7 352.1,348.7 342.8,352.5 335.0,333.6 330.3,335.5"/><polygon points="340.9,323.6 357.4,337.3 352.8,339.2 360.6,358.1 351.4,362.0 343.5,343.0 338.9,344.9"/><polygon points="357.0,322.1 367.0,341.1 362.0,341.1 362.0,361.6 352.0,361.6 352.0,341.1 347.0,341.1"/><polygon points="365.5,331.5 375.5,350.5 370.5,350.5 370.5,371.0 360.5,371.0 360.5,350.5 355.5,350.5"/><polygon points="374.1,341.0 384.1,360.0 379.1,360.0 379.1,380.5 369.1,380.5 369.1,360.0 364.1,360.0"/><polygon points="382.6,322.1 392.6,341.1 387.6,341.1 387.6,361.6 377.6,361.6 377.6,341.1 372.6,341.1"/><polygon points="383.6,323.6 400.1,337.3 395.5,339.2 403.4,358.1 394.1,362.0 386.3,343.0 381.6,344.9"/><polygon points="385.8,327.8 406.3,334.2 402.7,337.7 417.2,352.2 410.2,359.3 395.7,344.8 392.1,348.3"/><polygon points="394.3,327.8 414.8,334.2 411.3,337.7 425.8,352.2 418.7,359.3 404.2,344.8 400.7,348.3"/><polygon points="398.6,324.8 420.0,322.8 418.0,327.4 437.0,335.3 433.2,344.5 414.2,336.7 412.3,341.3"/><polygon points="407.1,324.8 428.5,322.8 426.6,327.4 445.5,335.3 441.7,344.5 422.8,336.7 420.9,341.3"/><polygon points="415.7,324.8 437.1,322.8 435.1,327.4 454.1,335.3 450.3,344.5 431.3,336.7 429.4,341.3"/><polygon points="424.2,334.3 445.6,332.3 443.7,336.9 462.6,344.7 458.8,354.0 439.9,346.1 438.0,350.8"/><polygon points="437.1,346.8 457.6,353.1 454.0,356.7 468.5,371.1 461.5,378.2 447.0,363.7 443.4,367.3"/><polygon points="445.6,356.2 466.1,362.6 462.6,366.1 477.1,380.6 470.0,387.7 455.5,373.2 452.0,376.7"/><polygon points="454.2,356.2 474.7,362.6 471.1,366.1 485.6,380.6 478.6,387.7 464.1,373.2 460.5,376.7"/><polygon points="476.7,359.9 486.7,378.9 481.7,378.9 481.7,399.4 471.7,399.4 471.7,378.9 466.7,378.9"/><polygon points="492.8,361.4 494.8,382.8 490.1,380.9 482.3,399.8 473.0,396.0 480.9,377.0 476.3,375.1"/><polygon points="501.3,361.4 503.3,382.8 498.7,380.9 490.8,399.8 481.6,396.0 489.4,377.0 484.8,375.1"/><polygon points="516.3,365.7 509.9,386.2 506.4,382.6 491.9,397.1 484.8,390.1 499.3,375.6 495.8,372.0"/><polygon points="524.8,365.7 518.5,386.2 514.9,382.6 500.4,397.1 493.4,390.1 507.9,375.6 504.3,372.0"/><polygon points="533.4,365.7 527.0,386.2 523.5,382.6 509.0,397.1 501.9,390.1 516.4,375.6 512.9,372.0"/><polygon points="546.2,377.7 524.8,379.7 526.8,375.1 507.8,367.2 511.6,358.0 530.6,365.8 532.5,361.2"/><polygon points="536.5,389.9 526.5,370.9 531.5,370.9 531.5,350.4 541.5,350.4 541.5,370.9 546.5,370.9"/><polygon points="537.5,379.0 535.5,357.6 540.2,359.5 548.0,340.6 557.3,344.4 549.4,363.3 554.0,365.2"/><polygon points="546.1,369.5 544.1,348.1 548.7,350.0 556.6,331.1 565.8,334.9 558.0,353.9 562.6,355.8"/><polygon points="548.2,355.8 554.6,335.3 558.1,338.8 572.6,324.3 579.7,331.4 565.2,345.9 568.7,349.4"/><polygon points="552.5,330.5 566.2,313.9 568.1,318.6 587.1,310.7 590.9,320.0 571.9,327.8 573.9,332.4"/><polygon points="561.0,339.9 574.8,323.4 576.7,328.0 595.6,320.2 599.4,329.4 580.5,337.3 582.4,341.9"/><polygon points="569.6,358.8 583.3,342.3 585.2,346.9 604.2,339.1 608.0,348.3 589.0,356.2 591.0,360.8"/><polygon points="578.1,377.7 591.9,361.2 593.8,365.8 612.7,358.0 616.5,367.2 597.6,375.1 599.5,379.7"/><polygon points="591.0,384.1 597.3,363.6 600.9,367.2 615.4,352.7 622.4,359.7 607.9,374.2 611.5,377.8"/><polygon points="605.9,397.9 603.9,376.5 608.6,378.4 616.4,359.5 625.7,363.3 617.8,382.2 622.4,384.2"/><polygon points="622.0,399.4 612.0,380.4 617.0,380.4 617.0,359.9 627.0,359.9 627.0,380.4 632.0,380.4"/><polygon points="638.1,397.9 621.6,384.2 626.2,382.2 618.4,363.3 627.6,359.5 635.5,378.4 640.1,376.5"/><polygon points="646.7,397.9 630.2,384.2 634.8,382.2 626.9,363.3 636.2,359.5 644.0,378.4 648.7,376.5"/><polygon points="655.2,388.4 638.7,374.7 643.3,372.8 635.5,353.8 644.7,350.0 652.6,369.0 657.2,367.0"/><polygon points="656.2,389.9 646.2,370.9 651.2,370.9 651.2,350.4 661.2,350.4 661.2,370.9 666.2,370.9"/><polygon points="657.2,388.4 655.2,367.0 659.9,369.0 667.7,350.0 677.0,353.8 669.1,372.8 673.7,374.7"/><polygon points="673.3,389.9 663.3,370.9 668.3,370.9 668.3,350.4 678.3,350.4 678.3,370.9 683.3,370.9"/><polygon points="663.6,368.3 677.4,351.8 679.3,356.4 698.2,348.5 702.0,357.8 683.1,365.6 685.0,370.2"/><polygon points="670.7,360.7 689.7,350.7 689.7,355.7 710.2,355.7 710.2,365.7 689.7,365.7 689.7,370.7"/><polygon points="679.2,341.8 698.2,331.8 698.2,336.8 718.7,336.8 718.7,346.8 698.2,346.8 698.2,351.8"/><polygon points="689.3,339.9 703.0,323.4 704.9,328.0 723.9,320.2 727.7,329.4 708.7,337.3 710.7,341.9"/><polygon points="697.8,349.4 711.6,332.9 713.5,337.5 732.4,329.6 736.2,338.9 717.3,346.7 719.2,351.3"/><polygon points="706.4,358.8 720.1,342.3 722.0,346.9 741.0,339.1 744.8,348.3 725.8,356.2 727.8,360.8"/><polygon points="714.9,377.7 728.7,361.2 730.6,365.8 749.5,358.0 753.3,367.2 734.4,375.1 736.3,379.7"/><polygon points="734.2,393.2 732.2,371.8 736.8,373.7 744.7,354.7 753.9,358.6 746.1,377.5 750.7,379.4"/><polygon points="764.2,393.6 743.7,387.2 747.3,383.7 732.8,369.2 739.8,362.1 754.3,376.6 757.9,373.1"/><polygon points="766.4,397.9 749.9,384.2 754.5,382.2 746.6,363.3 755.9,359.5 763.7,378.4 768.4,376.5"/><polygon points="781.3,393.6 760.8,387.2 764.4,383.7 749.9,369.2 756.9,362.1 771.4,376.6 775.0,373.1"/><polygon points="789.9,393.6 769.4,387.2 772.9,383.7 758.4,369.2 765.5,362.1 780.0,376.6 783.5,373.1"/><polygon points="798.4,393.6 777.9,387.2 781.5,383.7 767.0,369.2 774.0,362.1 788.5,376.6 792.1,373.1"/><polygon points="807.0,384.1 786.5,377.8 790.0,374.2 775.5,359.7 782.6,352.7 797.1,367.2 800.6,363.6"/><polygon points="809.1,379.0 792.6,365.2 797.2,363.3 789.4,344.4 798.6,340.6 806.5,359.5 811.1,357.6"/><polygon points="824.1,337.3 817.7,357.8 814.2,354.3 799.7,368.8 792.6,361.7 807.1,347.2 803.6,343.7"/><polygon points="832.6,327.8 826.3,348.3 822.7,344.8 808.2,359.3 801.2,352.2 815.7,337.7 812.1,334.2"/><polygon points="809.0,334.3 830.4,332.3 828.4,336.9 847.4,344.7 843.6,354.0 824.6,346.1 822.7,350.8"/><polygon points="817.5,324.8 838.9,322.8 837.0,327.4 855.9,335.3 852.1,344.5 833.2,336.7 831.3,341.3"/><polygon points="826.1,324.8 847.5,322.8 845.5,327.4 864.5,335.3 860.7,344.5 841.7,336.7 839.8,341.3"/><polygon points="834.6,324.8 856.0,322.8 854.1,327.4 873.0,335.3 869.2,344.5 850.3,336.7 848.4,341.3"/><polygon points="843.2,334.3 864.6,332.3 862.6,336.9 881.6,344.7 877.8,354.0 858.8,346.1 856.9,350.8"/><polygon points="856.0,346.8 876.5,353.1 873.0,356.7 887.5,371.1 880.4,378.2 865.9,363.7 862.4,367.3"/><polygon points="864.6,356.2 885.1,362.6 881.5,366.1 896.0,380.6 889.0,387.7 874.5,373.2 870.9,376.7"/><polygon points="873.1,356.2 893.6,362.6 890.1,366.1 904.6,380.6 897.5,387.7 883.0,373.2 879.5,376.7"/><polygon points="888.1,351.9 904.6,365.7 900.0,367.6 907.8,386.5 898.6,390.3 890.7,371.4 886.1,373.3"/><polygon points="904.2,350.4 914.2,369.4 909.2,369.4 909.2,389.9 899.2,389.9 899.2,369.4 894.2,369.4"/><polygon points="912.7,350.4 922.7,369.4 917.7,369.4 917.7,389.9 907.7,389.9 907.7,369.4 902.7,369.4"/><polygon points="921.3,350.4 931.3,369.4 926.3,369.4 926.3,389.9 916.3,389.9 916.3,369.4 911.3,369.4"/><polygon points="922.3,351.9 938.8,365.7 934.2,367.6 942.0,386.5 932.8,390.3 924.9,371.4 920.3,373.3"/><polygon points="930.8,351.9 947.3,365.7 942.7,367.6 950.6,386.5 941.3,390.3 933.5,371.4 928.8,373.3"/><polygon points="933.0,346.8 953.5,353.1 949.9,356.7 964.4,371.1 957.4,378.2 942.9,363.7 939.3,367.3"/><polygon points="941.5,337.3 962.0,343.7 958.5,347.2 973.0,361.7 965.9,368.8 951.4,354.3 947.9,357.8"/><polygon points="945.8,334.3 967.2,332.3 965.2,336.9 984.2,344.7 980.4,354.0 961.4,346.1 959.5,350.8"/><polygon points="954.3,324.8 975.7,322.8 973.8,327.4 992.7,335.3 988.9,344.5 970.0,336.7 968.1,341.3"/><polygon points="961.4,332.4 980.4,322.4 980.4,327.4 1000.9,327.4 1000.9,337.4 980.4,337.4 980.4,342.4"/><polygon points="971.4,334.3 992.8,332.3 990.9,336.9 1009.8,344.7 1006.0,354.0 987.1,346.1 985.2,350.8"/><polygon points="980.0,353.2 1001.4,351.2 999.4,355.8 1018.4,363.7 1014.6,372.9 995.6,365.1 993.7,369.7"/><polygon points="988.5,372.1 1009.9,370.1 1008.0,374.7 1026.9,382.6 1023.1,391.8 1004.2,384.0 1002.3,388.6"/><polygon points="997.1,372.1 1018.5,370.1 1016.5,374.7 1035.5,382.6 1031.7,391.8 1012.7,384.0 1010.8,388.6"/></g></g>

<!-- left labels -->
<g font-family="Liberation Sans" font-size="17" fill="#000" text-anchor="end">
<text x="51.5" y="128.9">6</text>
<text x="51.5" y="176.2">5</text>
<text x="51.5" y="223.5">4</text>
<text x="51.5" y="270.7">3</text>
<text x="51.5" y="318.0">2</text>
<text x="51.5" y="365.3">1</text>
<text x="51.5" y="412.6">0</text>
</g>
<g font-family="Liberation Sans" font-size="17" fill="#000" text-anchor="start">
<text x="1028.5" y="128.9">30</text>
<text x="1028.5" y="176.2">25</text>
<text x="1028.5" y="223.5">20</text>
<text x="1028.5" y="270.7">15</text>
<text x="1028.5" y="318.0">10</text>
<text x="1037.5" y="365.3">5</text>
<text x="1037.5" y="412.6">0</text>
</g>
<text transform="translate(20.4,267) rotate(-90)" font-family="Liberation Sans" font-size="23" text-anchor="middle" fill="#000" textLength="221" lengthAdjust="spacingAndGlyphs">Wave Height - Metres</text>
<text transform="translate(1059,264.6) rotate(90)" font-family="Liberation Sans" font-size="23" text-anchor="middle" fill="#000" textLength="204" lengthAdjust="spacingAndGlyphs">Wind Speed - Knots</text>

<!-- day labels -->
<g font-family="Liberation Sans" font-size="16.5" fill="#000" text-anchor="middle">
<text x="126.4" y="435">Wednesday</text>
<text x="265.3" y="435">Thursday</text>
<text x="402.4" y="435">Friday</text>
<text x="540.0" y="435" font-weight="bold">Saturday</text>
<text x="676.2" y="435" font-weight="bold">Sunday</text>
<text x="810.3" y="435">Monday</text>
<text x="948.3" y="435">Tuesday</text>
</g>
<g font-family="Liberation Sans" font-size="18.5" fill="#808080" stroke="#808080" stroke-width="0.3" text-anchor="middle" letter-spacing="1.5">
<text x="130.2" y="458.8">21st</text>
<text x="266.8" y="458.8">22nd</text>
<text x="403.2" y="458.8">23rd</text>
<text x="539.8" y="458.8">24th</text>
<text x="677.0" y="458.8">25th</text>
<text x="813.0" y="458.8">26th</text>
<text x="949.5" y="458.8">27th</text>
</g>
<text x="893" y="401" font-family="DejaVu Sans" font-size="10.5" fill="#bcbcc8" textLength="118" lengthAdjust="spacingAndGlyphs">www.seabreeze.com.au</text>
</svg>
</body></html>
